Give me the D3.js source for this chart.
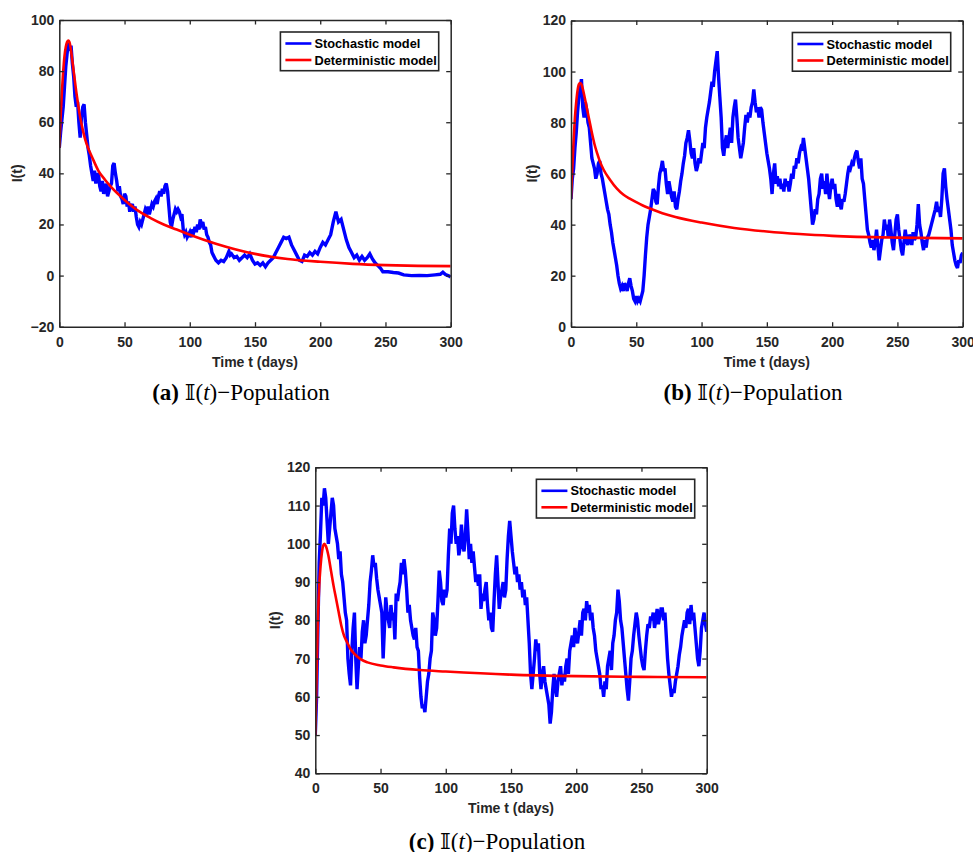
<!DOCTYPE html>
<html>
<head>
<meta charset="utf-8">
<script src="https://cdn.jsdelivr.net/npm/d3@7"></script>
<style>
  body { margin: 0; background: #fff; }
  svg text { font-family: "Liberation Sans", Arial, sans-serif; }
</style>
</head>
<body>
<svg id="fig" width="973" height="852"></svg>
<script>
// x axis shared by all panels
const xTicks = [0, 50, 100, 150, 200, 250, 300];
const legendLabels = ["Stochastic model", "Deterministic model"];
const captionLetters = ["a", "b", "c"];

// y ticks per panel
const yTicksA = [-20, 0, 20, 40, 60, 80, 100];
const yTicksB = [0, 20, 40, 60, 80, 100, 120];
const yTicksC = [40, 50, 60, 70, 80, 90, 100, 110, 120];

// (a) stochastic path, [t, I]
const stochA = [[0,50],[1,56],[2,61],[3,66],[4,74],[5,82],[6,87],[7,91],[8,88],[9,90],[10,83],[11,78],[12,70],[13,66],[14,68],[15,60],[16,54],[17,62],[18,66],[19,67],[20,60],[21,55],[22,50],[23,47],[24,43],[25,40],[26,37],[27,41],[28,36],[29,39],[30,40],[31,35],[32,33],[33,37],[34,32],[35,34],[36,36],[37,31],[38,33],[39,35],[40,36],[41,43],[42,44],[43,40],[44,37],[45,33],[46,35],[47,31],[48,30],[49,28],[50,32],[51,31],[52,27],[53,29],[54,25],[55,27],[56,28],[57,25],[58,27],[59,23],[60,20],[61,19],[62,21],[63,20],[64,22],[65,24],[66,26],[67,25],[68,27],[69,24],[70,26],[71,28],[72,27],[73,29],[74,30],[75,28],[76,31],[77,33],[78,31],[79,34],[80,32],[81,35],[82,36],[83,33],[84,27],[85,21],[86,19],[87,22],[88,24],[89,26],[90,25],[91,26],[92,25],[93,23],[94,24],[95,18],[96,16],[97,17],[98,15],[99,16],[100,17],[101,15],[102,18],[103,17],[104,19],[105,17],[106,20],[107,18],[108,22],[109,20],[110,21],[111,18],[112,19],[113,16],[114,15],[115,13],[116,12],[117,9],[118,8],[119,7],[120,6],[122,5],[124,6],[126,5.5],[128,7],[130,9.5],[131,8],[132,8.5],[134,7],[136,7.5],[138,6],[140,7],[142,8],[144,7],[146,8.5],[148,6],[150,4.5],[152,5],[154,4],[156,5],[158,3.5],[160,5],[162,6],[164,7],[166,9],[168,11],[170,13],[172,15],[174,14.5],[176,15],[178,12],[180,10],[182,8],[184,6],[186,5.5],[188,8],[190,7.5],[192,9],[194,8],[196,9.5],[198,8.5],[200,11],[202,13],[204,12],[206,14],[208,16],[210,21],[212,25],[213,23],[214,21],[216,22],[218,18],[220,14],[222,11],[224,9],[226,7],[228,8],[230,6],[232,7.5],[234,6],[236,7],[238,8.5],[240,6.5],[242,5],[244,4],[246,3],[248,1.5],[252,1.5],[256,1.2],[260,1],[264,0.3],[270,0],[276,0.1],[282,0],[288,0.3],[292,0.5],[294,1.3],[296,0.4],[298,0],[300,-0.5]];

const detA = [[0,50],[1,62],[2,72],[3,80],[4,86],[5,89.5],[6,91.5],[7,92],[8,91],[9,88],[10,84],[11,80],[12,76],[13,72],[14,68.5],[15,65],[16,62],[18,57],[20,53],[22,50],[25,46.5],[30,41],[35,37.5],[40,34.5],[50,29.6],[60,25.5],[70,22.5],[80,20],[90,18],[100,16],[120,12.5],[150,8.5],[175,6.5],[200,5.4],[225,4.6],[250,4.1],[275,3.8],[300,3.7]];

// (b)
const stochB = [[0,50],[1,58],[2,62],[3,70],[4,76],[5,84],[6,90],[7,93],[8,97],[9,86],[10,82],[11,88],[12,85],[13,80],[14,78],[15,72],[16,66],[17,64],[18,62],[19,58],[20,60],[21,64],[22,65],[23,60],[24,58],[25,55],[26,52],[27,49],[28,46],[29,44],[30,40],[31,37],[32,33],[33,30],[34,27],[35,24],[36,20],[37,17],[38,15],[39,16],[40,14],[41,17],[42,16],[43,14],[44,17],[45,19],[46,16],[47,14],[48,11],[49,10],[50,12],[51,10],[52,11],[53,10],[54,12],[55,14],[56,20],[57,28],[58,35],[59,40],[60,43],[61,46],[62,50],[63,54],[64,53],[65,49],[66,48],[67,55],[68,60],[69,62],[70,65],[71,61],[72,62],[73,56],[74,52],[75,57],[76,54],[77,51],[78,49],[79,53],[80,47],[81,46],[82,50],[83,53],[84,57],[85,60],[86,64],[87,67],[88,72],[89,74],[90,77],[91,73],[92,68],[93,66],[94,70],[95,64],[96,61],[97,63],[98,66],[99,64],[100,68],[101,72],[102,70],[103,78],[104,82],[105,85],[106,88],[107,92],[108,96],[109,94],[110,100],[111,104],[112,108],[113,98],[114,90],[115,82],[116,70],[117,67],[118,72],[119,75],[120,70],[121,74],[122,78],[123,72],[124,82],[125,86],[126,89],[127,82],[128,74],[129,70],[130,66],[131,69],[132,72],[133,78],[134,83],[135,80],[136,84],[137,82],[138,86],[139,88],[140,93],[141,88],[142,84],[143,86],[144,82],[145,86],[146,85],[147,80],[148,76],[149,72],[150,68],[151,65],[152,62],[153,58],[154,52],[155,60],[156,64],[157,56],[158,59],[159,55],[160,58],[161,54],[162,56],[163,53],[164,58],[165,55],[166,57],[167,53],[168,56],[169,60],[170,58],[171,63],[172,62],[173,66],[174,64],[175,68],[176,70],[177,69],[178,74],[179,70],[180,66],[181,62],[182,58],[183,52],[184,46],[185,40],[186,42],[187,46],[188,44],[189,50],[190,52],[191,58],[192,60],[193,54],[194,57],[195,52],[196,60],[197,54],[198,50],[199,55],[200,58],[201,54],[202,56],[203,50],[204,47],[205,52],[206,48],[207,46],[208,50],[209,49],[210,52],[211,56],[212,60],[213,63],[214,62],[215,64],[216,63],[217,66],[218,68],[219,69],[220,65],[221,62],[222,66],[223,58],[224,56],[225,50],[226,44],[227,38],[228,36],[229,33],[230,31],[231,34],[232,30],[233,33],[234,38],[235,32],[236,26],[237,30],[238,34],[239,36],[240,42],[241,38],[242,40],[243,35],[244,42],[245,38],[246,33],[247,30],[248,36],[249,42],[250,44],[251,38],[252,34],[253,30],[254,28],[255,33],[256,38],[257,34],[258,32],[259,36],[260,35],[261,32],[262,37],[263,34],[264,35],[265,40],[266,48],[267,40],[268,37],[269,33],[270,30],[271,34],[272,31],[273,35],[274,36],[275,38],[276,40],[277,42],[278,44],[279,46],[280,49],[281,45],[282,47],[283,43],[284,50],[285,60],[286,62],[287,55],[288,50],[289,46],[290,42],[291,38],[292,32],[293,29],[294,26],[295,24],[296,23],[297,26],[298,25],[299,28],[300,29]];

const detB = [[0,50],[1,62],[2,73],[3,82],[4,88],[5,92.5],[6,95],[7,95.5],[8,95],[10,91],[12,86],[14,81],[16,76],[18,71.5],[20,68],[22,65],[25,61.5],[30,57.5],[35,54.2],[40,51.8],[45,50.2],[50,48.8],[55,47.5],[60,46.4],[70,44.5],[80,43],[100,40.8],[125,38.7],[150,37.3],[175,36.3],[200,35.6],[250,34.9],[300,34.6]];

// (c)
const stochC = [[0,50],[1,60],[2,78],[3,95],[4,103],[5,112],[6,110],[7,114.5],[8,112],[9,106],[10,100],[11,104],[12,108],[13,112],[14,110],[15,104],[16,102],[17,100],[18,96],[19,98],[20,92],[21,90],[22,86],[23,82],[24,80],[25,70],[26,66],[27,63],[28,72],[29,78],[30,82],[31,70],[32,62],[33,68],[34,73],[35,70],[36,77],[37,80],[38,74],[39,76],[40,80],[41,84],[42,90],[43,93],[44,97],[45,94],[46,95],[47,91],[48,88],[49,86],[50,84],[51,82],[52,70],[53,78],[54,86],[55,82],[56,80],[57,78],[58,84],[59,80],[60,82],[61,75],[62,87],[63,85],[64,88],[65,90],[66,95],[67,92],[68,96],[69,93],[70,88],[71,82],[72,84],[73,80],[74,78],[75,76],[76,75],[77,78],[78,73],[79,72],[80,65],[81,60],[82,57],[83,58],[84,56],[85,60],[86,64],[87,66],[88,70],[89,72],[90,82],[91,80],[92,76],[93,78],[94,85],[95,93],[96,90],[97,85],[98,84],[99,88],[100,86],[101,88],[102,97],[103,104],[104,100],[105,108],[106,110],[107,104],[108,100],[109,102],[110,97],[111,99],[112,105],[113,100],[114,98],[115,102],[116,109],[117,103],[118,96],[119,100],[120,95],[121,98],[122,94],[123,90],[124,92],[125,89],[126,92],[127,83],[128,87],[129,85],[130,88],[131,90],[132,84],[133,80],[134,82],[135,78],[136,77],[137,85],[138,92],[139,97],[140,90],[141,83],[142,86],[143,88],[144,90],[145,86],[146,88],[147,96],[148,102],[149,106],[150,102],[151,98],[152,95],[153,92],[154,94],[155,90],[156,92],[157,88],[158,90],[159,86],[160,88],[161,84],[162,86],[163,80],[164,74],[165,66],[166,62],[167,66],[168,70],[169,75],[170,72],[171,74],[172,66],[173,62],[174,66],[175,68],[176,64],[177,62],[178,60],[179,58],[180,53],[181,56],[182,62],[183,66],[184,62],[185,60],[186,64],[187,66],[188,68],[189,63],[190,66],[191,64],[192,68],[193,70],[194,66],[195,72],[196,74],[197,76],[198,73],[199,78],[200,75],[201,74],[202,77],[203,80],[204,76],[205,82],[206,83],[207,80],[208,85],[209,82],[210,84],[211,80],[212,82],[213,78],[214,76],[215,72],[216,70],[217,68],[218,66],[219,62],[220,63],[221,60],[222,64],[223,62],[224,68],[225,70],[226,72],[227,67],[228,74],[229,76],[230,80],[231,82],[232,88],[233,85],[234,80],[235,78],[236,74],[237,70],[238,66],[239,62],[240,59],[241,64],[242,70],[243,72],[244,76],[245,79],[246,82],[247,80],[248,76],[249,73],[250,70],[251,68],[252,67],[253,72],[254,76],[255,79],[256,78],[257,81],[258,80],[259,82],[260,78],[261,80],[262,83],[263,79],[264,81],[265,83],[266,83],[267,80],[268,82],[269,76],[270,70],[271,66],[272,63],[273,60],[274,62],[275,61],[276,64],[277,66],[278,68],[279,71],[280,73],[281,76],[282,78],[283,80],[284,78],[285,82],[286,83],[287,79],[288,84],[289,80],[290,82],[291,78],[292,74],[293,70],[294,68],[295,72],[296,78],[297,80],[298,82],[299,79],[300,77]];

const detC = [[0,50],[1,65],[2,80],[3,89],[4,94],[5,97.5],[6,99.5],[7,100],[8,99.5],[10,97],[12,93],[14,89],[16,85.5],[18,82],[20,78.5],[22,76],[24,74.5],[27,72.5],[30,71.2],[35,69.8],[40,69],[50,68.2],[60,67.7],[80,67],[100,66.6],[150,65.8],[200,65.4],[250,65.2],[300,65.1]];

// layout of the three subplots (pixel boxes)
const panels = [
  { left: 59.3, top: 20, w: 391.4, h: 306.7, yDomain: [-20, 100], yTicks: yTicksA, stoch: stochA, det: detA, capX: 241, capY: 400, ylabX: 17 },
  { left: 571, top: 20.5, w: 391.7, h: 306.2, yDomain: [0, 120], yTicks: yTicksB, stoch: stochB, det: detB, capX: 753, capY: 400, ylabX: 532 },
  { left: 315.3, top: 467.3, w: 391.4, h: 306, yDomain: [40, 120], yTicks: yTicksC, stoch: stochC, det: detC, capX: 497, capY: 849, ylabX: 275 },
];

const axisColor = "#262626";
const svg = d3.select("#fig");

panels.forEach((p, i) => {
  const x = d3.scaleLinear().domain([0, 300]).range([p.left, p.left + p.w]);
  const y = d3.scaleLinear().domain(p.yDomain).range([p.top + p.h, p.top]);
  const g = svg.append("g");

  g.append("clipPath").attr("id", "clip" + i)
    .append("rect").attr("x", p.left).attr("y", p.top).attr("width", p.w).attr("height", p.h);

  const line = d3.line().x((d) => x(d[0])).y((d) => y(d[1]));
  const smooth = d3.line().x((d) => x(d[0])).y((d) => y(d[1])).curve(d3.curveMonotoneX);

  const plot = g.append("g").attr("clip-path", `url(#clip${i})`);
  plot.append("path").datum(p.stoch)
    .attr("d", line).attr("fill", "none").attr("stroke", "#0000ff")
    .attr("stroke-width", 3.4).attr("stroke-linejoin", "miter").attr("stroke-miterlimit", 3);
  plot.append("path").datum(p.det)
    .attr("d", smooth).attr("fill", "none").attr("stroke", "#ff0000")
    .attr("stroke-width", 2.6);

  // ticks inward on all four sides (box on)
  const tl = 4.5;
  const bottom = d3.axisBottom(x).tickValues(xTicks).tickSizeInner(-tl).tickSizeOuter(0).tickPadding(10);
  const top = d3.axisTop(x).tickValues(xTicks).tickSizeInner(-tl).tickSizeOuter(0).tickFormat("");
  const leftAx = d3.axisLeft(y).tickValues(p.yTicks).tickSizeInner(-tl).tickSizeOuter(0).tickPadding(5);
  const rightAx = d3.axisRight(y).tickValues(p.yTicks).tickSizeInner(-tl).tickSizeOuter(0).tickFormat("");

  [
    [bottom, `translate(0,${p.top + p.h})`],
    [top, `translate(0,${p.top})`],
    [leftAx, `translate(${p.left},0)`],
    [rightAx, `translate(${p.left + p.w},0)`],
  ].forEach(([ax, tr]) => {
    const a = g.append("g").attr("transform", tr).call(ax);
    a.select(".domain").attr("stroke", axisColor).attr("stroke-width", 1.5);
    a.selectAll(".tick line").attr("stroke", axisColor).attr("stroke-width", 1.3);
    a.selectAll(".tick text").attr("fill", axisColor)
      .style("font-size", "14px").style("font-weight", "bold");
  });

  // axis labels
  g.append("text").attr("x", p.left + p.w / 2).attr("y", p.top + p.h + 40)
    .attr("text-anchor", "middle").attr("fill", axisColor)
    .style("font-size", "14px").style("font-weight", "bold")
    .text("Time t (days)");
  g.append("text")
    .attr("transform", `translate(${p.ylabX + 5},${p.top + p.h / 2}) rotate(-90)`)
    .attr("text-anchor", "middle").attr("fill", axisColor)
    .style("font-size", "14px").style("font-weight", "bold")
    .text("I(t)");

  // legend
  const lw = 158.3, lh = 38.7;
  const lx = p.left + p.w - 12 - lw, ly = p.top + 12;
  const leg = g.append("g");
  leg.append("rect").attr("x", lx).attr("y", ly).attr("width", lw).attr("height", lh)
    .attr("fill", "#fff").attr("stroke", axisColor).attr("stroke-width", 1.6);
  legendLabels.forEach((lab, k) => {
    const yy = ly + 11.5 + k * 16.5;
    leg.append("line").attr("x1", lx + 5).attr("x2", lx + 31).attr("y1", yy).attr("y2", yy)
      .attr("stroke", k === 0 ? "#0000ff" : "#ff0000").attr("stroke-width", 2.6);
    leg.append("text").attr("x", lx + 34).attr("y", yy + 4.6)
      .attr("fill", "#000").style("font-size", "12.8px").style("font-weight", "bold")
      .text(lab);
  });

  // caption
  const cap = g.append("text").attr("x", p.capX).attr("y", p.capY)
    .attr("text-anchor", "middle")
    .style("font-family", "'Liberation Serif', 'Times New Roman', serif")
    .style("font-size", "23px").attr("fill", "#000");
  cap.append("tspan").style("font-weight", "bold").text(`(${captionLetters[i]}) `);
  cap.append("tspan").style("font-family", "'DejaVu Serif', 'DejaVu Sans', serif").text("\u{1D540}");
  cap.append("tspan").text("(");
  cap.append("tspan").style("font-style", "italic").text("t");
  cap.append("tspan").text(")\u2212Population");
});
</script>
</body>
</html>
